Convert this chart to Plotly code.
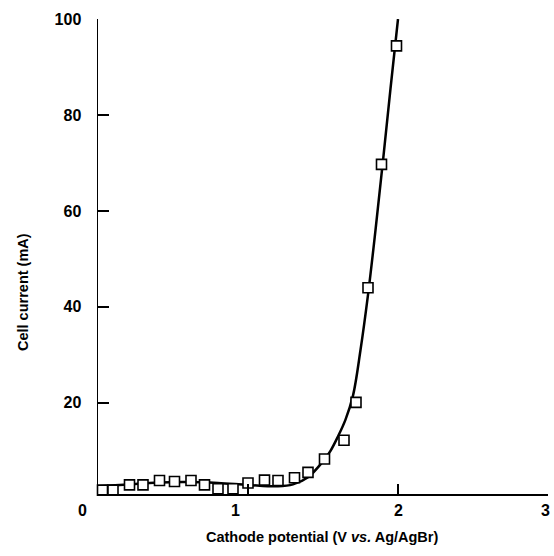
import plotly.graph_objects as go

# Measured data points (open squares)
pot_pts = [0.03, 0.10, 0.21, 0.30, 0.41, 0.51, 0.62, 0.71, 0.80, 0.90, 1.00,
           1.11, 1.20, 1.31, 1.40, 1.51, 1.64, 1.72, 1.80, 1.89, 1.99]
cur_pts = [1.8, 1.8, 2.9, 2.9, 3.8, 3.6, 3.8, 2.9, 2.1, 2.1, 3.3,
           3.9, 3.8, 4.4, 5.5, 8.3, 12.2, 20.1, 44.0, 69.7, 94.4]

# Fitted curve
pot_fit = [0.0, 0.2, 0.4, 0.6, 0.8, 1.0, 1.2, 1.3, 1.4, 1.5, 1.55, 1.6,
           1.65, 1.7, 1.75, 1.8, 1.85, 1.9, 1.95, 2.0]
cur_fit = [2.6, 3.0, 3.4, 3.5, 3.3, 2.9, 2.6, 3.0, 4.5, 7.8, 10.0, 13.0,
           16.5, 21.5, 31.0, 42.5, 56.0, 70.5, 85.5, 100.0]

y_ticks = [20, 40, 60, 80, 100]
x_ticks = [1, 2, 3]
# x tick labels: text and pixel centre positions as seen in the reference
x_tick_text = ["0", "1", "2", "3"]
x_label_px = [82, 235, 398, 545]

FONT = "Liberation Sans, Arial, sans-serif"
L, R, T, B, W, H = 98, 6, 19, 62, 554, 556
PW, PH = W - L - R, H - T - B

fig = go.Figure()
fig.add_trace(go.Scatter(x=pot_fit, y=cur_fit, mode="lines",
                         line=dict(color="black", width=2.5, shape="spline"),
                         showlegend=False, hoverinfo="skip"))
fig.add_trace(go.Scatter(x=pot_pts, y=cur_pts, mode="markers",
                         marker=dict(symbol="square", size=10, color="white",
                                     line=dict(color="black", width=1.6)),
                         showlegend=False, cliponaxis=False))

annotations = []
for px, t in zip(x_label_px, x_tick_text):
    annotations.append(dict(x=(px - L) / PW, y=-16 / PH, xref="paper", yref="paper", text=t,
                            showarrow=False, xanchor="center", yanchor="middle",
                            borderpad=0,
                            font=dict(family=FONT, size=16, color="black", weight=700)))
annotations.append(dict(x=(322 - L) / PW, y=-43 / PH, xref="paper", yref="paper",
                        text="Cathode potential (V <i>vs.</i> Ag/AgBr)",
                        showarrow=False, xanchor="center", yanchor="middle",
                        font=dict(family=FONT, size=14.5, color="black", weight=700)))
annotations.append(dict(x=(23 - L) / PW, y=(494 - 292) / PH, xref="paper", yref="paper",
                        text="Cell current (mA)", textangle=-90,
                        showarrow=False, xanchor="center", yanchor="middle",
                        font=dict(family=FONT, size=14.5, color="black", weight=700)))

fig.update_layout(
    width=W, height=H,
    margin=dict(l=L, r=R, t=T, b=B),
    paper_bgcolor="white", plot_bgcolor="white",
    annotations=annotations,
    xaxis=dict(range=[0, 3], tickvals=x_ticks, showticklabels=False,
               ticks="inside", ticklen=10, tickwidth=1.5, tickcolor="black",
               showline=True, linecolor="black", linewidth=1.5,
               showgrid=False, zeroline=False),
    yaxis=dict(range=[1, 100], tickvals=y_ticks,
               ticks="inside", ticklen=11, tickwidth=1.5, tickcolor="black",
               showline=True, linecolor="black", linewidth=1.5,
               showgrid=False, zeroline=False,
               tickfont=dict(family=FONT, size=16, color="black", weight=700),
               ticklabelstandoff=12),
)

fig.write_html("out.html",
               config={"displayModeBar": False, "staticPlot": True},
               post_script="document.body.style.margin='0px';document.body.style.overflow='hidden';")
